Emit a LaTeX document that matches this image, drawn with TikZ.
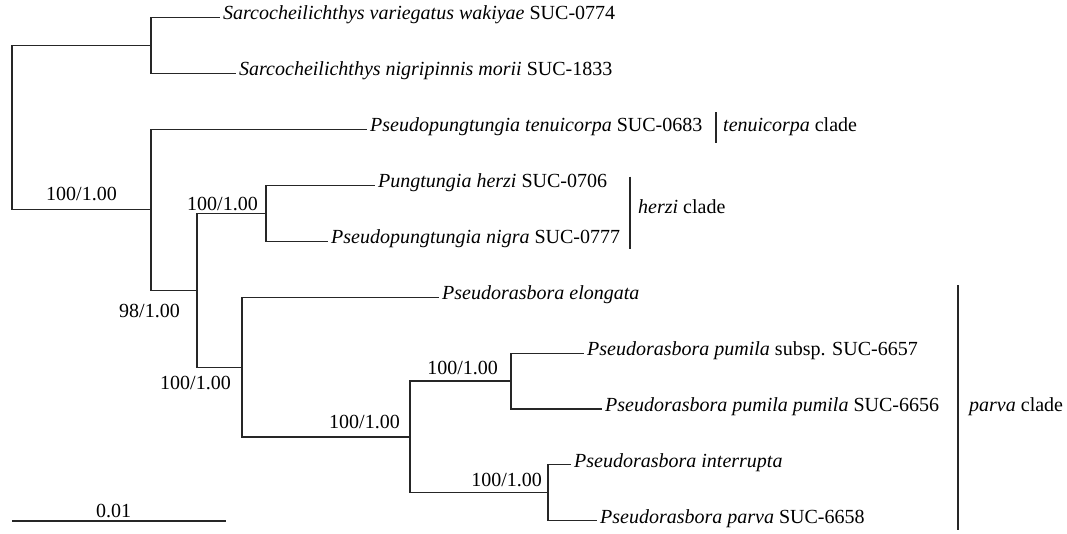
\documentclass[tikz,border=0pt]{standalone}
\usepackage{fontspec}
\setmainfont{Liberation Serif}
\begin{document}
\begin{tikzpicture}[x=1pt,y=-1pt,
  br/.style={line width=1.1pt, draw=black!85},
  leaf/.style={anchor=mid west, inner xsep=3pt, inner ysep=0pt, font=\fontsize{20}{24}\selectfont},
  supp/.style={anchor=base east, inner sep=0pt, font=\fontsize{20}{24}\selectfont},
  cladelab/.style={anchor=mid west, inner sep=0pt, font=\fontsize{20}{24}\selectfont}]
\useasboundingbox (0,0) rectangle (1067,533);
% internal nodes
\coordinate (root) at (12,127.8);
\coordinate (sar) at (151,45.65);
\coordinate (B) at (151,209.9);
\coordinate (C) at (197,290.2);
\coordinate (H) at (266,213.35);
\coordinate (D) at (242,367.1);
\coordinate (E) at (410,437);
\coordinate (F) at (511,381);
\coordinate (G) at (548,492.9);
% leaves
\node[leaf] (l1) at (220,17.7) {\textit{Sarcocheilichthys variegatus wakiyae} SUC-0774};
\node[leaf] (l2) at (236,73.6) {\textit{Sarcocheilichthys nigripinnis morii} SUC-1833};
\node[leaf] (l3) at (367,129.5) {\textit{Pseudopungtungia tenuicorpa} SUC-0683};
\node[leaf] (l4) at (375,185.4) {\textit{Pungtungia herzi} SUC-0706};
\node[leaf] (l5) at (328,241.3) {\textit{Pseudopungtungia nigra} SUC-0777};
\node[leaf] (l6) at (439,297.2) {\textit{Pseudorasbora elongata}};
\node[leaf] (l7) at (584,353.1) {\textit{Pseudorasbora pumila} subsp. SUC-6657};
\node[leaf] (l8) at (602,409) {\textit{Pseudorasbora pumila pumila} SUC-6656};
\node[leaf] (l9) at (571,464.9) {\textit{Pseudorasbora interrupta}};
\node[leaf] (l10) at (597,520.8) {\textit{Pseudorasbora parva} SUC-6658};
% branches
\draw[br] (root) |- (sar);
\draw[br] (root) |- (B);
\draw[br] (sar) |- (l1.mid west);
\draw[br] (sar) |- (l2.mid west);
\draw[br] (B) |- (l3.mid west);
\draw[br] (B) |- (C);
\draw[br] (C) |- (H);
\draw[br] (C) |- (D);
\draw[br] (H) |- (l4.mid west);
\draw[br] (H) |- (l5.mid west);
\draw[br] (D) |- (l6.mid west);
\draw[br] (D) |- (E);
\draw[br] (E) |- (F);
\draw[br] (E) |- (G);
\draw[br] (F) |- (l7.mid west);
\draw[br] (F) |- (l8.mid west);
\draw[br] (G) |- (l9.mid west);
\draw[br] (G) |- (l10.mid west);
% support values
\node[supp] (sB) at (117,200) {100/1.00};
\node[supp] (sH) at (258,210.7) {100/1.00};
\node[supp] (sC) at (180,317) {98/1.00};
\node[supp] (sD) at (231,389.5) {100/1.00};
\node[supp] (sE) at (400,428.3) {100/1.00};
\node[supp] (sF) at (498,374) {100/1.00};
\node[supp] (sG) at (542,486.7) {100/1.00};
% clade bars
\coordinate (t1) at (716,112);
\coordinate (t2) at (716,143);
\draw[br] (t1) -- (t2);
\node[cladelab] (tl) at (723,129.5) {\textit{tenuicorpa} clade};
\coordinate (h1) at (630,176.5);
\coordinate (h2) at (630,249);
\draw[br] (h1) -- (h2);
\node[cladelab] (hl) at (638,211) {\textit{herzi} clade};
\coordinate (p1) at (958,285);
\coordinate (p2) at (958,530);
\draw[br] (p1) -- (p2);
\node[cladelab] (pl) at (969,409) {\textit{parva} clade};
% scale bar
\coordinate (s1) at (12,521);
\coordinate (s2) at (226,521);
\draw[br] (s1) -- (s2);
\node[anchor=base, inner sep=0pt, font=\fontsize{20}{24}\selectfont] (sl) at (113.5,517.3) {0.01};
\end{tikzpicture}
\end{document}
